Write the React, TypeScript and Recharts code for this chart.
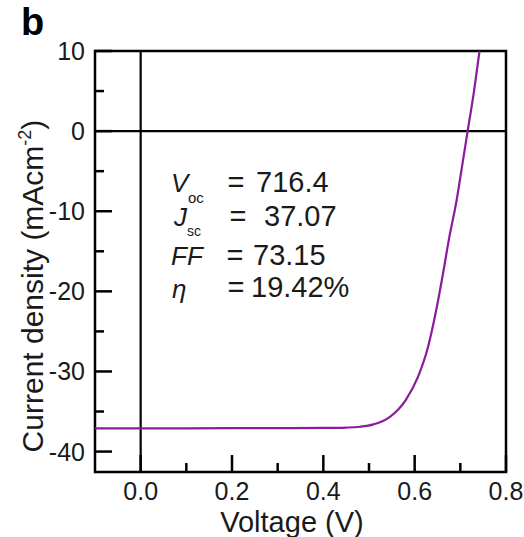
import { Line, LineChart, ReferenceArea, ReferenceLine, XAxis, YAxis } from "recharts";

// J-V curve
const voltage = [
  -0.1, 0.0, 0.1, 0.2, 0.3, 0.4, 0.45, 0.48, 0.51, 0.545, 0.58, 0.607, 0.629,
  0.647, 0.662, 0.676, 0.692, 0.704, 0.716, 0.73, 0.742,
];
const currentDensity = [
  -37.1, -37.1, -37.1, -37.08, -37.07, -37.05, -37.0, -36.9, -36.6, -35.7,
  -33.6, -30.7, -27.0, -22.4, -17.8, -13.2, -8.6, -4.3, 0, 5, 10,
];

const xMajorTicks = [0, 0.2, 0.4, 0.6, 0.8];
const xMinorTicks = [0.1, 0.3, 0.5, 0.7];
const yMajorTicks = [-40, -30, -20, -10, 0, 10];
const yMinorTicks = [-35, -25, -15, -5, 5];

const X_DOMAIN: [number, number] = [-0.1, 0.8];
const Y_DOMAIN: [number, number] = [-42.55, 10];

const data = voltage.map((v, i) => ({ v, j: currentDensity[i] }));

const FONT = "Arial, 'Liberation Sans', Helvetica, sans-serif";
const TEXT = "#1a1a1a";
const CURVE = "#8b1a9c";
const MAJOR_LEN = 17;
const MINOR_LEN = 9;
const TICK_W = 2.5;

const isMajor = (v: number, majors: number[]) =>
  majors.some((m) => Math.abs(m - v) < 1e-6);

function BottomTick({ x, y, payload }: any) {
  const major = isMajor(payload.value, xMajorTicks);
  return (
    <g>
      <line x1={x} y1={y} x2={x} y2={y - (major ? MAJOR_LEN : MINOR_LEN)} stroke="#000" strokeWidth={TICK_W} />
      {major && (
        <text x={x} y={y + 28} textAnchor="middle" fontSize={25} fontFamily={FONT} fill={TEXT}>
          {payload.value.toFixed(1)}
        </text>
      )}
    </g>
  );
}

function TopTick({ x, y, payload }: any) {
  const major = isMajor(payload.value, xMajorTicks);
  return <line x1={x} y1={y} x2={x} y2={y + (major ? MAJOR_LEN : MINOR_LEN)} stroke="#000" strokeWidth={TICK_W} />;
}

function LeftTick({ x, y, payload }: any) {
  const major = isMajor(payload.value, yMajorTicks);
  return (
    <g>
      <line x1={x} y1={y} x2={x + (major ? MAJOR_LEN : MINOR_LEN)} y2={y} stroke="#000" strokeWidth={TICK_W} />
      {major && (
        <text x={x - 10} y={y + 9} textAnchor="end" fontSize={25} fontFamily={FONT} fill={TEXT}>
          {payload.value}
        </text>
      )}
    </g>
  );
}

function RightTick({ x, y, payload }: any) {
  const major = isMajor(payload.value, yMajorTicks);
  return <line x1={x} y1={y} x2={x - (major ? MAJOR_LEN : MINOR_LEN)} y2={y} stroke="#000" strokeWidth={TICK_W} />;
}

const xTicks = [...xMajorTicks, ...xMinorTicks].sort((a, b) => a - b);
const yTicks = [...yMajorTicks, ...yMinorTicks].sort((a, b) => a - b);

export default function App() {
  return (
    <div style={{ position: "absolute", left: 0, top: 0, width: 524, height: 537, background: "#fff" }}>
      <LineChart width={524} height={537} data={data} margin={{ top: 51, right: 18, bottom: 0, left: 0 }}>
        <XAxis
          dataKey="v"
          type="number"
          domain={X_DOMAIN}
          allowDataOverflow
          ticks={xTicks}
          interval={0}
          height={65}
          axisLine={false}
          tickLine={false}
          tickSize={0}
          tickMargin={0}
          tick={(p: any) => <BottomTick {...p} />}
        />
        <XAxis
          xAxisId="top"
          orientation="top"
          dataKey="v"
          type="number"
          domain={X_DOMAIN}
          allowDataOverflow
          ticks={xTicks}
          interval={0}
          height={0}
          axisLine={false}
          tickLine={false}
          tickSize={0}
          tickMargin={0}
          tick={(p: any) => <TopTick {...p} />}
        />
        <YAxis
          type="number"
          domain={Y_DOMAIN}
          allowDataOverflow
          ticks={yTicks}
          interval={0}
          width={95}
          axisLine={false}
          tickLine={false}
          tickSize={0}
          tickMargin={0}
          tick={(p: any) => <LeftTick {...p} />}
        />
        <YAxis
          yAxisId="right"
          orientation="right"
          type="number"
          domain={Y_DOMAIN}
          allowDataOverflow
          ticks={yTicks}
          interval={0}
          width={0}
          axisLine={false}
          tickLine={false}
          tickSize={0}
          tickMargin={0}
          tick={(p: any) => <RightTick {...p} />}
        />
        <ReferenceArea x1={X_DOMAIN[0]} x2={X_DOMAIN[1]} y1={Y_DOMAIN[0]} y2={Y_DOMAIN[1]} fill="none" stroke="#000" strokeWidth={2.5} />
        <ReferenceLine x={0} stroke="#000" strokeWidth={2.2} />
        <ReferenceLine y={0} stroke="#000" strokeWidth={2.2} />
        <Line
          dataKey="j"
          type="monotone"
          stroke={CURVE}
          strokeWidth={2.2}
          dot={false}
          activeDot={false}
          isAnimationActive={false}
        />

        <text x={21} y={35} fontSize={38} fontWeight="bold" fontFamily={FONT} fill="#000">
          b
        </text>
        <text x={292} y={532} textAnchor="middle" fontSize={29} fontFamily={FONT} fill={TEXT}>
          Voltage (V)
        </text>
        <text transform="translate(43,286) rotate(-90)" textAnchor="middle" fontSize={30} fontFamily={FONT} fill={TEXT}>
          Current density (mAcm
          <tspan dy={-12} fontSize={18}>-2</tspan>
          <tspan dy={12}>)</tspan>
        </text>

        <g fontFamily={FONT} fill={TEXT} fontSize={29}>
          <text x={171} y={192} fontSize={26} fontStyle="italic">V</text>
          <text x={188} y={203} fontSize={15}>oc</text>
          <text x={236} y={192} textAnchor="middle">=</text>
          <text x={256} y={192}>716.4</text>

          <text x={174} y={226} fontSize={26} fontStyle="italic">J</text>
          <text x={187} y={236} fontSize={14}>sc</text>
          <text x={238} y={226} textAnchor="middle">=</text>
          <text x={264} y={226}>37.07</text>

          <text x={171} y={265} fontSize={26} fontStyle="italic">FF</text>
          <text x={235} y={265} textAnchor="middle">=</text>
          <text x={253} y={265}>73.15</text>

          <text x={172} y={298} fontSize={26} fontStyle="italic">η</text>
          <text x={236} y={297} textAnchor="middle">=</text>
          <text x={251} y={297}>19.42%</text>
        </g>
      </LineChart>
    </div>
  );
}
